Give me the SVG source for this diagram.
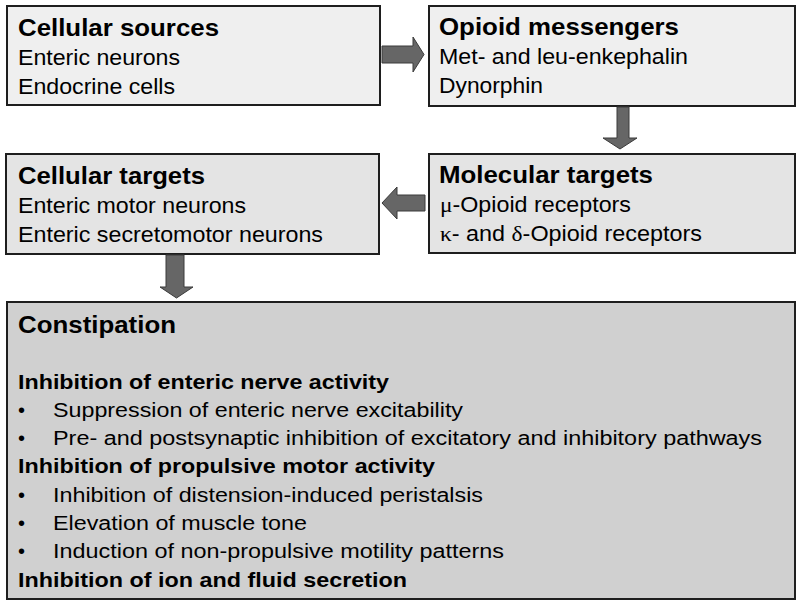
<svg xmlns="http://www.w3.org/2000/svg" width="800" height="605" viewBox="0 0 800 605">
<style>
.box{stroke:#1e1e1e;stroke-width:2}
.l1{fill:#efefef}.l2{fill:#e4e4e4}.l3{fill:#d0d0d0}
text{font-family:"Liberation Sans",Arial,sans-serif;fill:#000}
.t{font-size:24px;font-weight:bold}
.b{font-size:22px}
.h{font-size:20.5px;font-weight:bold}
.s{font-size:20px}
.g{font-family:"Liberation Serif","Times New Roman",serif}
.arr{fill:#666;stroke:#3a3a3a;stroke-width:1}
</style>
<rect width="800" height="605" fill="#fff"/>
<g id="cellular-sources">
<rect class="box l1" x="7" y="6" width="373" height="99"/>
<text class="t" x="18" y="36" textLength="201" lengthAdjust="spacingAndGlyphs">Cellular sources</text>
<text class="b" x="18" y="65" textLength="162" lengthAdjust="spacingAndGlyphs">Enteric neurons</text>
<text class="b" x="18" y="94" textLength="157" lengthAdjust="spacingAndGlyphs">Endocrine cells</text>
</g>
<g id="opioid-messengers">
<rect class="box l1" x="429" y="6" width="366" height="100"/>
<text class="t" x="439" y="35" textLength="240" lengthAdjust="spacingAndGlyphs">Opioid messengers</text>
<text class="b" x="439" y="64" textLength="249" lengthAdjust="spacingAndGlyphs">Met- and leu-enkephalin</text>
<text class="b" x="439" y="93" textLength="104" lengthAdjust="spacingAndGlyphs">Dynorphin</text>
</g>
<g id="molecular-targets">
<rect class="box l2" x="429" y="154" width="366" height="99"/>
<text class="t" x="439" y="183" textLength="214" lengthAdjust="spacingAndGlyphs">Molecular targets</text>
<text class="b" x="440" y="212" textLength="191" lengthAdjust="spacingAndGlyphs"><tspan class="g">μ</tspan>-Opioid receptors</text>
<text class="b" x="440" y="241" textLength="262" lengthAdjust="spacingAndGlyphs"><tspan class="g">κ</tspan>- and <tspan class="g">δ</tspan>-Opioid receptors</text>
</g>
<g id="cellular-targets">
<rect class="box l2" x="6" y="154" width="373" height="100"/>
<text class="t" x="18" y="184" textLength="187" lengthAdjust="spacingAndGlyphs">Cellular targets</text>
<text class="b" x="18" y="213" textLength="228" lengthAdjust="spacingAndGlyphs">Enteric motor neurons</text>
<text class="b" x="18" y="242" textLength="305" lengthAdjust="spacingAndGlyphs">Enteric secretomotor neurons</text>
</g>
<g id="constipation">
<rect class="box l3" x="7" y="302" width="788" height="297"/>
<text class="t" x="18" y="333" textLength="158" lengthAdjust="spacingAndGlyphs">Constipation</text>
<text class="h" x="18" y="389" textLength="371" lengthAdjust="spacingAndGlyphs">Inhibition of enteric nerve activity</text>
<text class="s" x="18" y="417">•</text>
<text class="s" x="53" y="417" textLength="410" lengthAdjust="spacingAndGlyphs">Suppression of enteric nerve excitability</text>
<text class="s" x="18" y="445">•</text>
<text class="s" x="53" y="445" textLength="709" lengthAdjust="spacingAndGlyphs">Pre- and postsynaptic inhibition of excitatory and inhibitory pathways</text>
<text class="h" x="18" y="473" textLength="417" lengthAdjust="spacingAndGlyphs">Inhibition of propulsive motor activity</text>
<text class="s" x="18" y="502">•</text>
<text class="s" x="53" y="502" textLength="430" lengthAdjust="spacingAndGlyphs">Inhibition of distension-induced peristalsis</text>
<text class="s" x="18" y="530">•</text>
<text class="s" x="53" y="530" textLength="254" lengthAdjust="spacingAndGlyphs">Elevation of muscle tone</text>
<text class="s" x="18" y="558">•</text>
<text class="s" x="53" y="558" textLength="451" lengthAdjust="spacingAndGlyphs">Induction of non-propulsive motility patterns</text>
<text class="h" x="18" y="587" textLength="389" lengthAdjust="spacingAndGlyphs">Inhibition of ion and fluid secretion</text>
</g>
<g id="connectors">
<polygon class="arr" points="382,46 413,46 413,37 424,54.5 413,72 413,63 382,63"/>
<polygon class="arr" points="617,107 629,107 629,138 637,138 620,149 603,138 617,138"/>
<polygon class="arr" points="425,195 397,195 397,187 382,203 397,219 397,211 425,211"/>
<polygon class="arr" points="166,255 184,255 184,287 193,287 176.5,298 160,287 166,287"/>
</g>
</svg>
